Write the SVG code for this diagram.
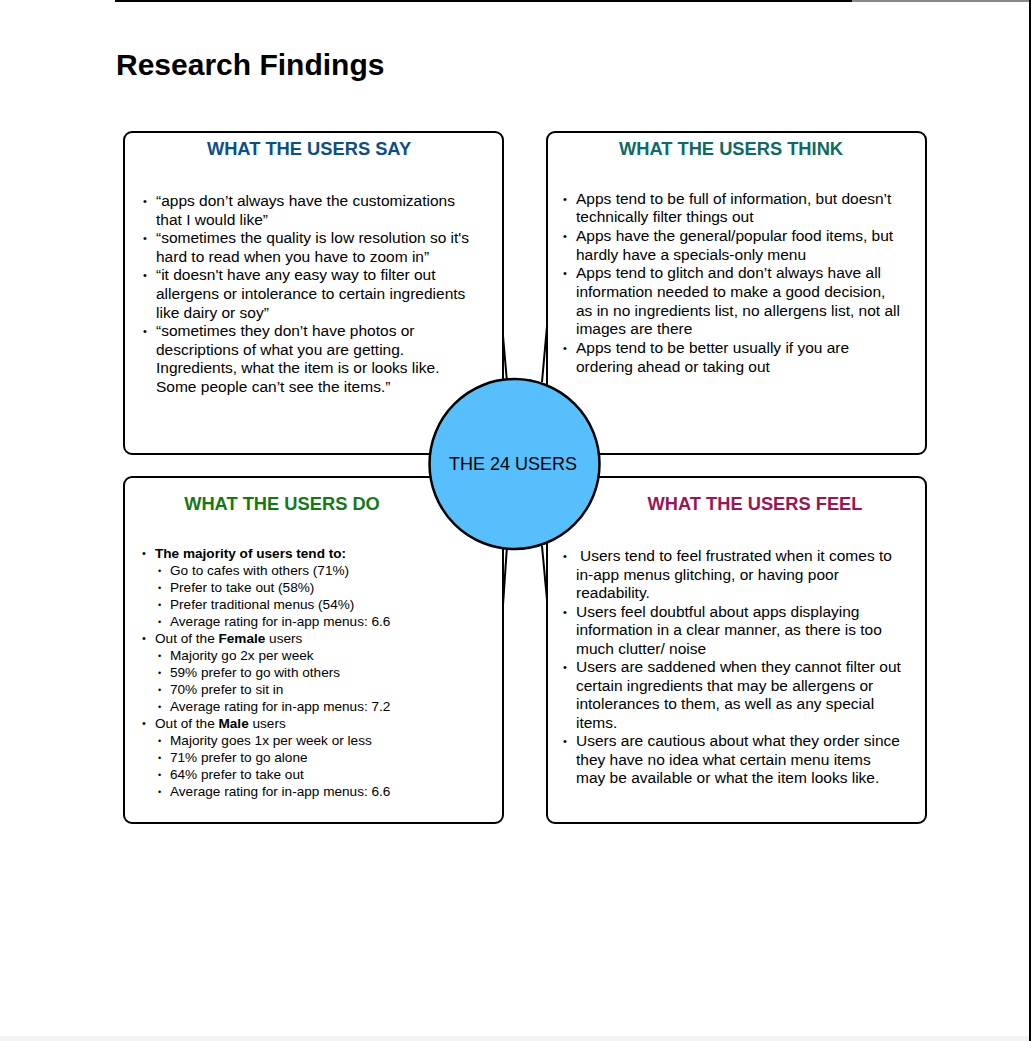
<svg xmlns="http://www.w3.org/2000/svg" width="1031" height="1041" viewBox="0 0 1031 1041">
<style>
text{font-family:"Liberation Sans",Arial,Helvetica,sans-serif;fill:#000}
.box{fill:#fff;stroke:#000;stroke-width:2}
.h{font-size:18.3px;font-weight:bold;text-anchor:middle}
.b{font-size:15.5px}
.s{font-size:13.6px}
.bu{font-size:11px}
.bu2{font-size:9px}
.conn line{stroke:#000;stroke-width:2}
</style>
<rect x="0" y="0" width="1031" height="1041" fill="#fff"/>
<line x1="115" y1="1" x2="852" y2="1" stroke="#000" stroke-width="2"/>
<line x1="852" y1="1" x2="1029" y2="1" stroke="#888" stroke-width="2"/>
<line x1="1030" y1="0" x2="1030" y2="1041" stroke="#000" stroke-width="2"/>
<rect x="0" y="1036" width="1029" height="5" fill="#f3f3f3"/>
<text x="116" y="75" style="font-size:30px;font-weight:bold">Research Findings</text>

<g id="say">
<rect class="box" x="124" y="132" width="379" height="322" rx="8"/>
<text class="h" x="309" y="155" style="fill:#0b4f87">WHAT THE USERS SAY</text>
<text class="bu" x="143" y="205">•</text>
<text class="b" x="156" y="206">“apps don’t always have the customizations</text>
<text class="b" x="156" y="224.6">that I would like”</text>
<text class="bu" x="143" y="242.2">•</text>
<text class="b" x="156" y="243.2">“sometimes the quality is low resolution so it's</text>
<text class="b" x="156" y="261.8">hard to read when you have to zoom in”</text>
<text class="bu" x="143" y="279.4">•</text>
<text class="b" x="156" y="280.4">“it doesn't have any easy way to filter out</text>
<text class="b" x="156" y="299">allergens or intolerance to certain ingredients</text>
<text class="b" x="156" y="317.6">like dairy or soy”</text>
<text class="bu" x="143" y="335.2">•</text>
<text class="b" x="156" y="336.2">“sometimes they don’t have photos or</text>
<text class="b" x="156" y="354.8">descriptions of what you are getting.</text>
<text class="b" x="156" y="373.4">Ingredients, what the item is or looks like.</text>
<text class="b" x="156" y="392">Some people can’t see the items.”</text>
</g>

<g id="think">
<rect class="box" x="547" y="132" width="379" height="322" rx="8"/>
<text class="h" x="731" y="155" style="fill:#0e6b63">WHAT THE USERS THINK</text>
<text class="bu" x="563" y="202.5">•</text>
<text class="b" x="576" y="203.5">Apps tend to be full of information, but doesn’t</text>
<text class="b" x="576" y="222.2">technically filter things out</text>
<text class="bu" x="563" y="239.9">•</text>
<text class="b" x="576" y="240.9">Apps have the general/popular food items, but</text>
<text class="b" x="576" y="259.6">hardly have a specials-only menu</text>
<text class="bu" x="563" y="277.3">•</text>
<text class="b" x="576" y="278.3">Apps tend to glitch and don’t always have all</text>
<text class="b" x="576" y="297">information needed to make a good decision,</text>
<text class="b" x="576" y="315.7">as in no ingredients list, no allergens list, not all</text>
<text class="b" x="576" y="334.4">images are there</text>
<text class="bu" x="563" y="352.1">•</text>
<text class="b" x="576" y="353.1">Apps tend to be better usually if you are</text>
<text class="b" x="576" y="371.8">ordering ahead or taking out</text>
</g>

<g id="do">
<rect class="box" x="124" y="477" width="379" height="346" rx="8"/>
<text class="h" x="282" y="510" style="fill:#137a13">WHAT THE USERS DO</text>
<text class="bu" x="142" y="557">•</text>
<text class="s" x="155" y="558" font-weight="bold">The majority of users tend to:</text>
<text class="bu2" x="158" y="574">•</text>
<text class="s" x="170" y="575">Go to cafes with others (71%)</text>
<text class="bu2" x="158" y="591">•</text>
<text class="s" x="170" y="592">Prefer to take out (58%)</text>
<text class="bu2" x="158" y="608">•</text>
<text class="s" x="170" y="609">Prefer traditional menus (54%)</text>
<text class="bu2" x="158" y="625">•</text>
<text class="s" x="170" y="626">Average rating for in-app menus: 6.6</text>
<text class="bu" x="142" y="642">•</text>
<text class="s" x="155" y="643">Out of the <tspan font-weight="bold">Female</tspan> users</text>
<text class="bu2" x="158" y="659">•</text>
<text class="s" x="170" y="660">Majority go 2x per week</text>
<text class="bu2" x="158" y="676">•</text>
<text class="s" x="170" y="677">59% prefer to go with others</text>
<text class="bu2" x="158" y="693">•</text>
<text class="s" x="170" y="694">70% prefer to sit in</text>
<text class="bu2" x="158" y="710">•</text>
<text class="s" x="170" y="711">Average rating for in-app menus: 7.2</text>
<text class="bu" x="142" y="727">•</text>
<text class="s" x="155" y="728">Out of the <tspan font-weight="bold">Male</tspan> users</text>
<text class="bu2" x="158" y="744">•</text>
<text class="s" x="170" y="745">Majority goes 1x per week or less</text>
<text class="bu2" x="158" y="761">•</text>
<text class="s" x="170" y="762">71% prefer to go alone</text>
<text class="bu2" x="158" y="778">•</text>
<text class="s" x="170" y="779">64% prefer to take out</text>
<text class="bu2" x="158" y="795">•</text>
<text class="s" x="170" y="796">Average rating for in-app menus: 6.6</text>
</g>

<g id="feel">
<rect class="box" x="547" y="477" width="379" height="346" rx="8"/>
<text class="h" x="755" y="510" style="fill:#9b1552">WHAT THE USERS FEEL</text>
<text class="bu" x="563" y="560">•</text>
<text class="b" x="580" y="561">Users tend to feel frustrated when it comes to</text>
<text class="b" x="576" y="579.5">in-app menus glitching, or having poor</text>
<text class="b" x="576" y="598">readability.</text>
<text class="bu" x="563" y="615.5">•</text>
<text class="b" x="576" y="616.5">Users feel doubtful about apps displaying</text>
<text class="b" x="576" y="635">information in a clear manner, as there is too</text>
<text class="b" x="576" y="653.5">much clutter/ noise</text>
<text class="bu" x="563" y="671">•</text>
<text class="b" x="576" y="672">Users are saddened when they cannot filter out</text>
<text class="b" x="576" y="690.5">certain ingredients that may be allergens or</text>
<text class="b" x="576" y="709">intolerances to them, as well as any special</text>
<text class="b" x="576" y="727.5">items.</text>
<text class="bu" x="563" y="745">•</text>
<text class="b" x="576" y="746">Users are cautious about what they order since</text>
<text class="b" x="576" y="764.5">they have no idea what certain menu items</text>
<text class="b" x="576" y="783">may be available or what the item looks like.</text>
</g>

<g id="connectors" class="conn">
<line x1="503" y1="336" x2="507" y2="382"/>
<line x1="547" y1="326" x2="542" y2="382"/>
<line x1="507" y1="546" x2="503" y2="605"/>
<line x1="542" y1="546" x2="547" y2="600"/>
</g>

<g id="center">
<circle cx="514.5" cy="464" r="85" fill="#56bffc" stroke="#000" stroke-width="2.5"/>
<text x="513" y="470" style="font-size:18px;text-anchor:middle">THE 24 USERS</text>
</g>
</svg>
